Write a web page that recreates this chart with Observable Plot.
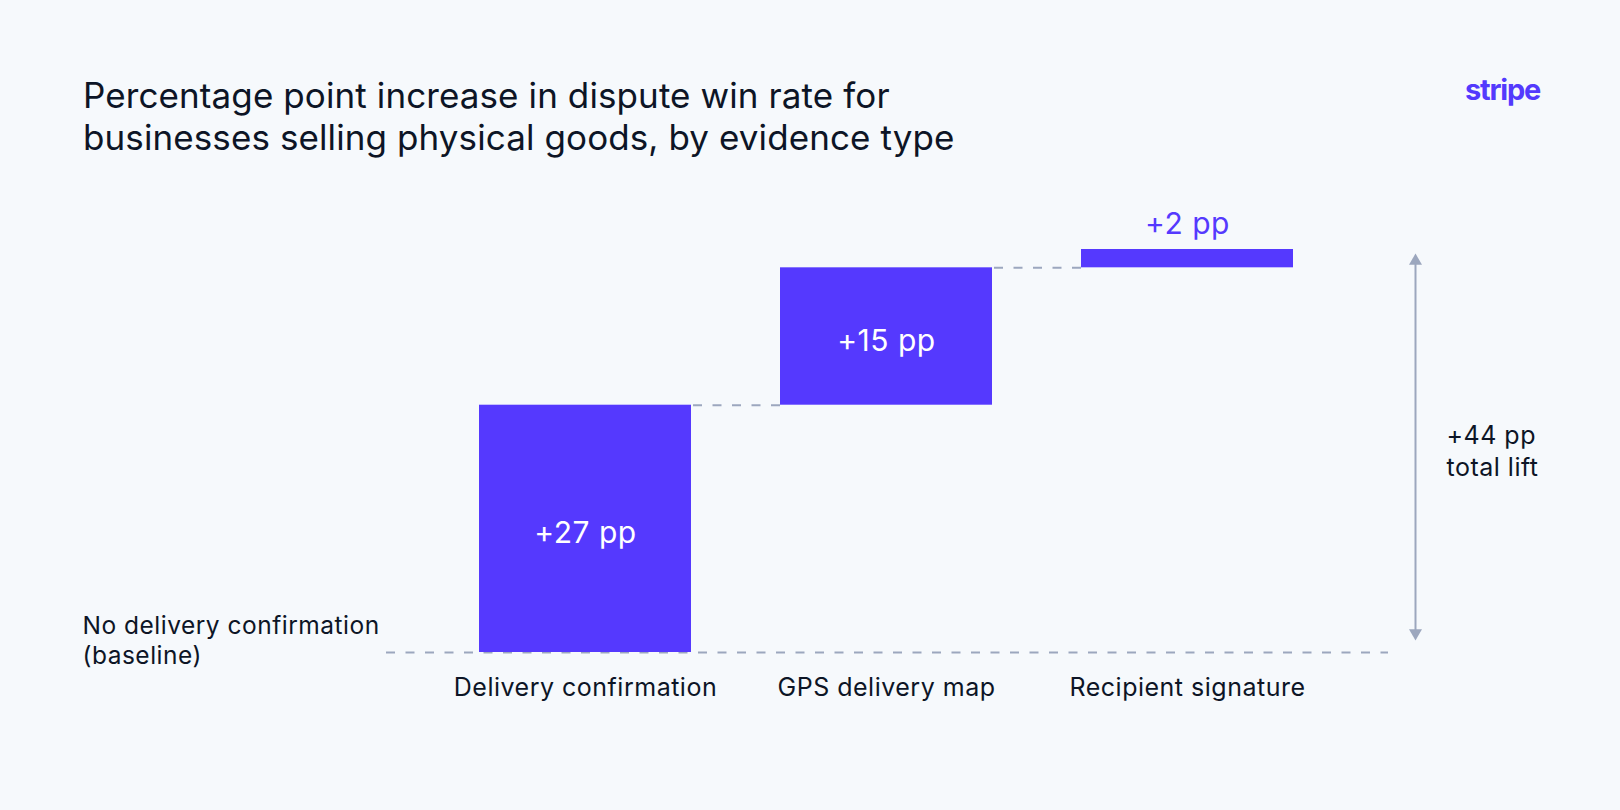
<!DOCTYPE html>
<html>
<head>
<meta charset="utf-8">
<script src="https://cdn.jsdelivr.net/npm/d3@7"></script>
<script src="https://cdn.jsdelivr.net/npm/@observablehq/plot@0.6"></script>
<style>
  html, body { margin: 0; padding: 0; background: #F6F9FC; }
  #wrap { position: relative; width: 1620px; height: 810px; overflow: hidden; font-family: Inter, "Noto Sans", sans-serif; }
  #title { position: absolute; left: 83px; top: 74px; margin: 0; font-size: 35px; line-height: 42px; font-weight: 400; color: #0d1526; letter-spacing: 0.1px; }
  #logo { position: absolute; left: 1465px; top: 75px; font-size: 29px; line-height: 29px; font-weight: 700; color: #533AFD; letter-spacing: -1.2px; }
  #chart { position: absolute; left: 0; top: 0; }
</style>
</head>
<body>
<div id="wrap">
  <h1 id="title">Percentage point increase in dispute win rate for<br>businesses selling physical goods, by evidence type</h1>
  <div id="logo">stripe</div>
  <div id="chart"></div>
</div>
<script>
// ---- data ----
const categories = ["Delivery confirmation", "GPS delivery map", "Recipient signature"];
const increases = [27, 15, 2];
const barLabels = ["+27 pp", "+15 pp", "+2 pp"];
const baselineLabel = "No delivery confirmation\n(baseline)";
const totalLabel = "+44 pp\ntotal lift";

// ---- derived ----
const ends = Array.from(d3.cumsum(increases));
const total = ends[ends.length - 1];
const rows = categories.map((c, i) => ({
  category: c,
  start: i === 0 ? 0 : ends[i - 1],
  end: ends[i],
  value: increases[i],
  label: barLabels[i]
}));
const connectors = rows.slice(0, -1).map((r, i) => ({from: r.category, to: rows[i + 1].category, y: r.end}));
const lastCat = categories[categories.length - 1];

const blurple = "#5539FE";
const dark = "#0d1526";
const gray = "#9CA7BE";

const chart = Plot.plot({
  width: 1620,
  height: 810,
  marginLeft: 389,
  marginRight: 236,
  marginTop: 249,
  marginBottom: 158,
  style: {fontFamily: "Inter, 'Noto Sans', sans-serif", background: "transparent", color: dark, overflow: "visible", letterSpacing: "0.5px"},
  x: {type: "band", domain: categories, padding: 0.295, axis: null},
  y: {domain: [0, total], axis: null},
  marks: [
    Plot.ruleY([0], {stroke: gray, strokeWidth: 2, strokeDasharray: "9,10.5", insetLeft: -3, insetRight: -4}),
    Plot.ruleY(connectors, {x1: "to", x2: "from", y: "y", stroke: gray, strokeWidth: 2, strokeDasharray: "9,10.5"}),
    Plot.barY(rows, {x: "category", y1: "start", y2: "end", fill: blurple}),
    Plot.text(rows.filter(d => d.value >= 5), {x: "category", y: d => (d.start + d.end) / 2, text: "label", fill: "white", fontSize: 30, dy: 5}),
    Plot.text(rows.filter(d => d.value < 5), {x: "category", y: "end", text: "label", fill: blurple, fontSize: 30, dy: -25}),
    Plot.axisX({tickSize: 0, tickPadding: 26, fontSize: 25, fill: dark, label: null}),
    Plot.text([baselineLabel], {y: 0, text: d => d, frameAnchor: "left", textAnchor: "start", dx: -307, dy: -13, fontSize: 24.5, lineHeight: 1.22, fill: dark}),
    Plot.ruleX([total], {x: () => lastCat, y1: d => d, y2: 0, stroke: gray, strokeWidth: 2, dx: 228, insetTop: 10, insetBottom: 18}),
    Plot.dot([total], {x: () => lastCat, y: d => d, symbol: "triangle", r: 4.82, fill: gray, stroke: "none", dx: 228, dy: 11.5}),
    Plot.dot([0], {x: () => lastCat, y: d => d, symbol: "triangle", rotate: 180, r: 4.82, fill: gray, stroke: "none", dx: 228, dy: -19.5}),
    Plot.text([totalLabel], {y: total / 2, text: d => d, frameAnchor: "right", textAnchor: "start", dx: 62, dy: -1, fontSize: 25, lineHeight: 1.25, fill: dark})
  ]
});
document.getElementById("chart").appendChild(chart);
</script>
</body>
</html>
